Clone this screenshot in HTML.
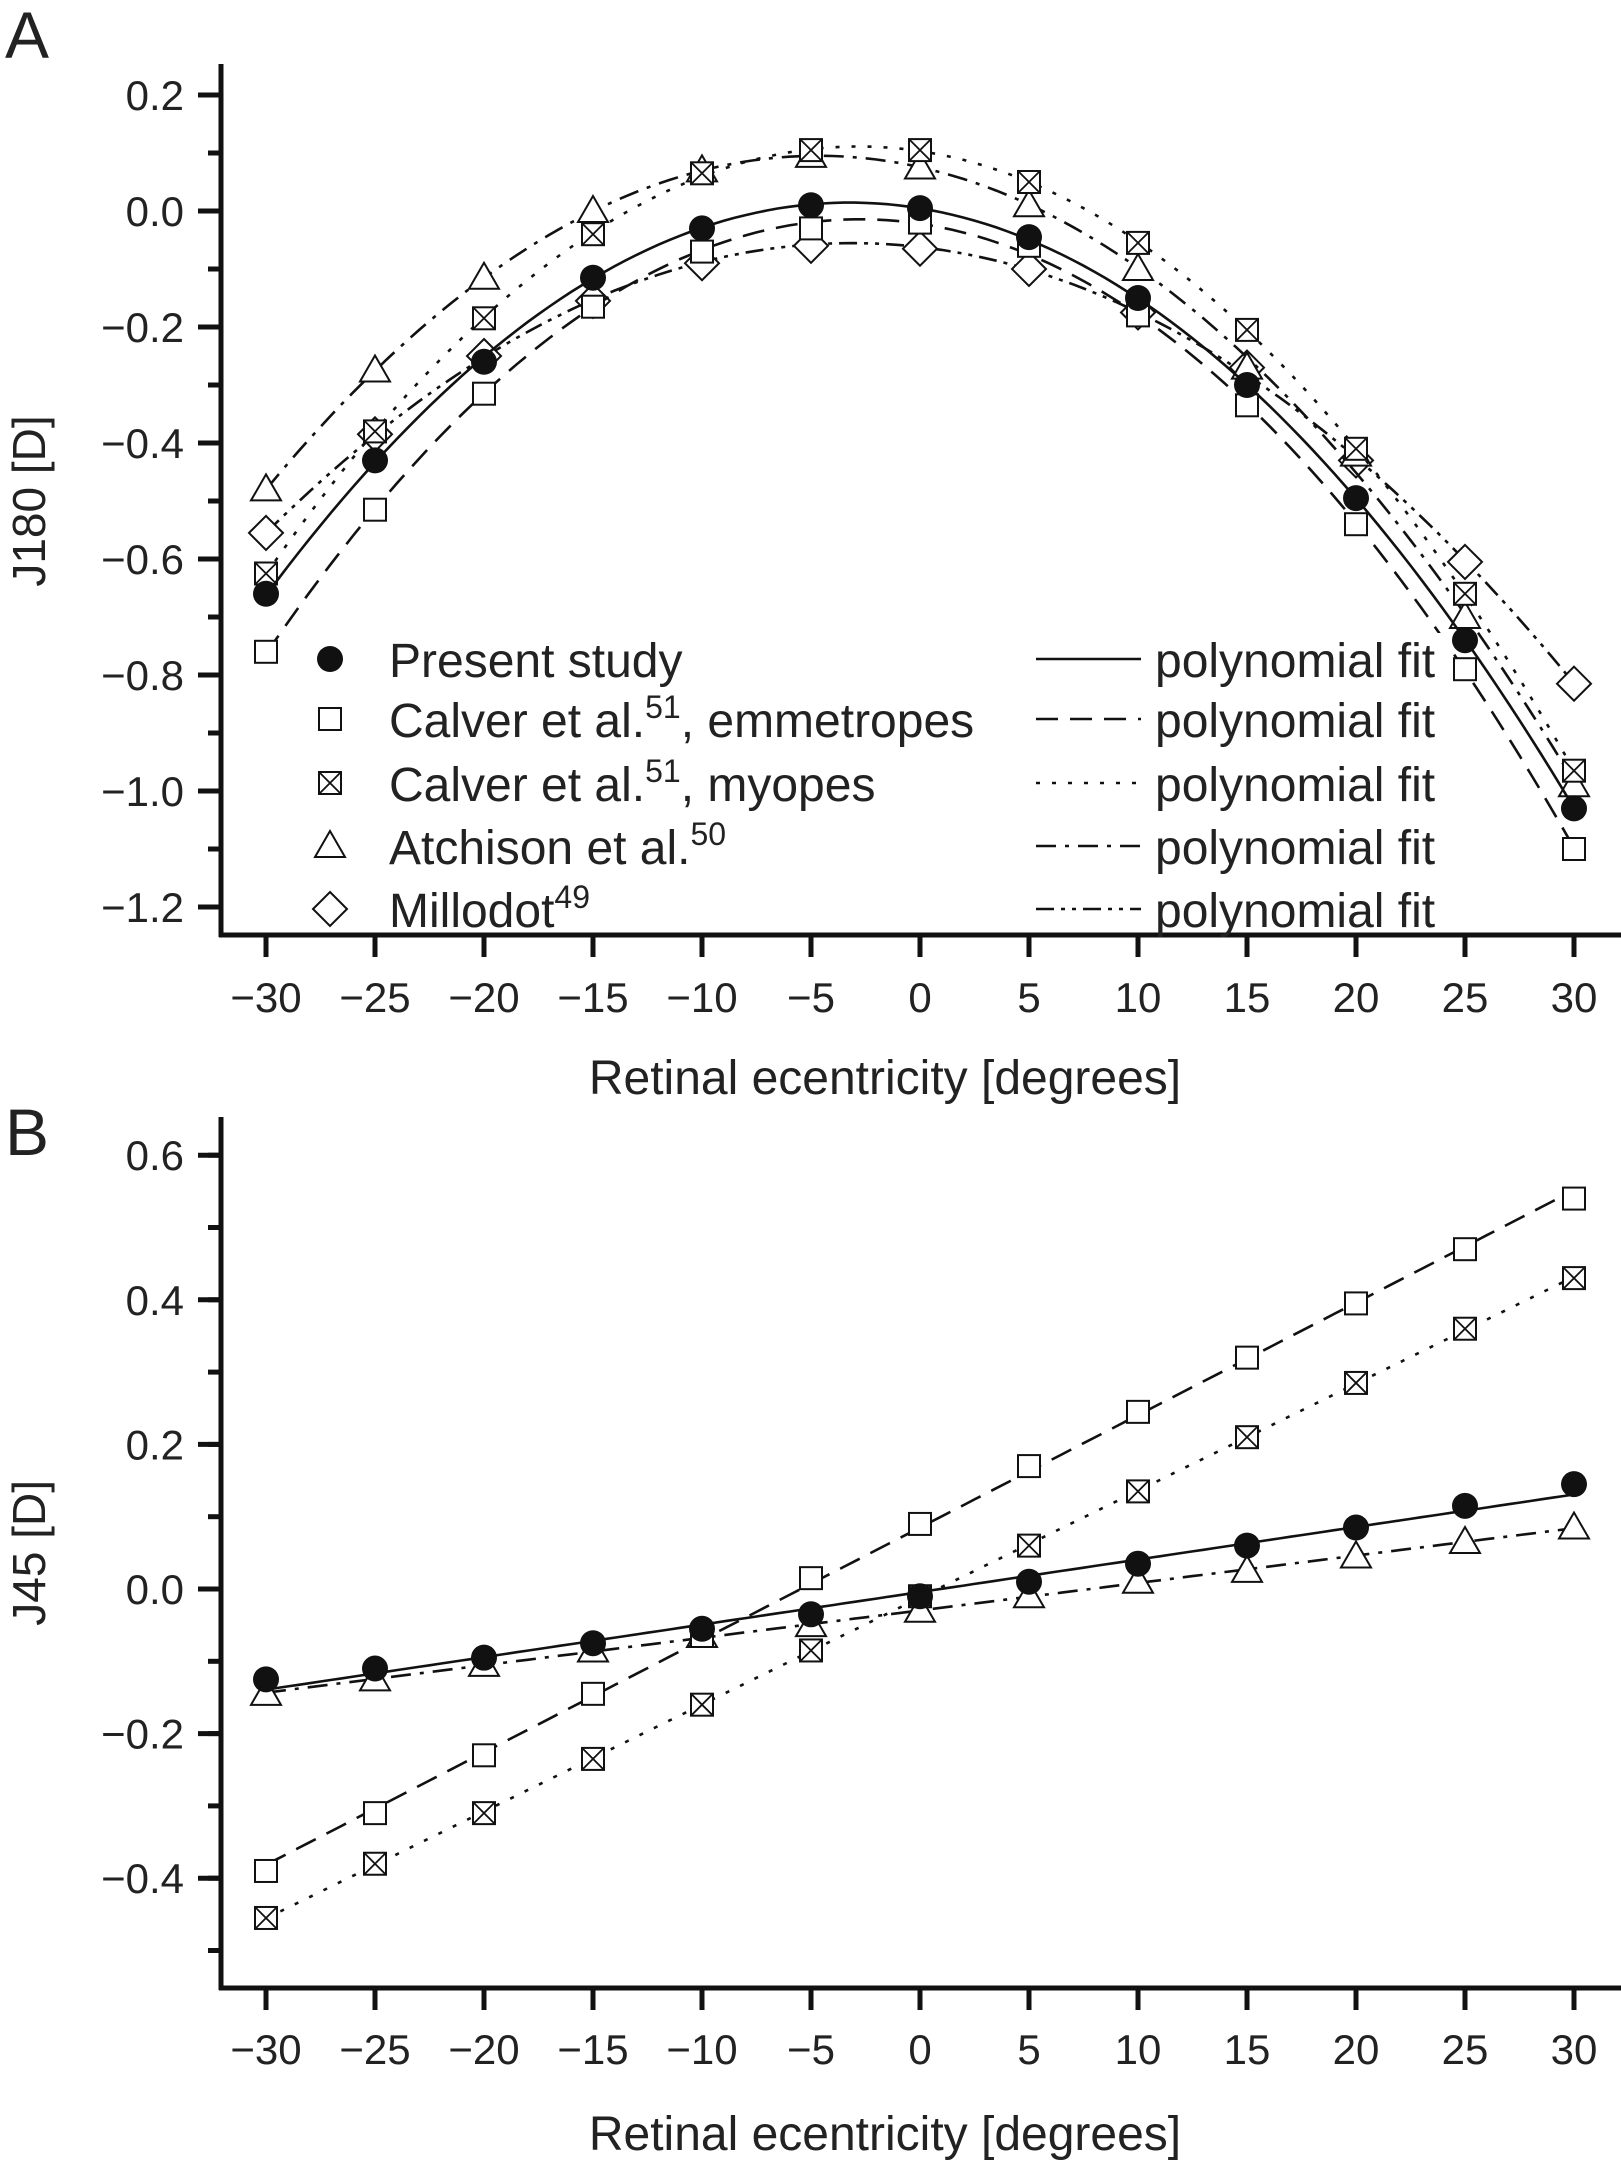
<!DOCTYPE html>
<html><head><meta charset="utf-8"><style>
html,body{margin:0;padding:0;background:#fff}
svg{display:block;font-family:"Liberation Sans",Arial,sans-serif}
</style></head><body>
<svg id="fig" width="1621" height="2161" viewBox="0 0 1621 2161" xmlns="http://www.w3.org/2000/svg"></svg>
<script>
const ecc = [-30,-25,-20,-15,-10,-5,0,5,10,15,20,25,30];
const xTicks = [-30,-25,-20,-15,-10,-5,0,5,10,15,20,25,30];
// Panel A (J180)
const aPresent = [-0.66,-0.43,-0.26,-0.115,-0.03,0.01,0.005,-0.045,-0.15,-0.30,-0.495,-0.74,-1.03];
const aEmm = [-0.76,-0.515,-0.315,-0.165,-0.07,-0.03,-0.02,-0.06,-0.18,-0.335,-0.54,-0.79,-1.10];
const aMyo = [-0.625,-0.38,-0.185,-0.04,0.065,0.105,0.105,0.05,-0.055,-0.205,-0.41,-0.66,-0.965];
const aAtch = [-0.48,-0.275,-0.115,0.0,0.07,0.095,0.075,0.01,-0.10,-0.27,-0.42,-0.70,-0.99];
const aMill = [-0.555,-0.385,-0.25,-0.155,-0.09,-0.06,-0.065,-0.10,-0.175,-0.27,-0.43,-0.605,-0.815];
const aTicks = [0.2,0.0,-0.2,-0.4,-0.6,-0.8,-1.0,-1.2];
// Panel B (J45)
const bPresent = [-0.125,-0.11,-0.095,-0.075,-0.055,-0.035,-0.01,0.01,0.035,0.06,0.085,0.115,0.145];
const bEmm = [-0.39,-0.31,-0.23,-0.145,-0.065,0.015,0.09,0.17,0.245,0.32,0.395,0.47,0.54];
const bMyo = [-0.455,-0.38,-0.31,-0.235,-0.16,-0.085,-0.01,0.06,0.135,0.21,0.285,0.36,0.43];
const bAtch = [-0.145,-0.125,-0.105,-0.085,-0.065,-0.05,-0.03,-0.01,0.01,0.025,0.045,0.065,0.085];
const bTicks = [0.6,0.4,0.2,0.0,-0.2,-0.4];

const NS="http://www.w3.org/2000/svg";
const svg=document.getElementById('fig');
function mk(tag,attrs,parent){const e=document.createElementNS(NS,tag);for(const k in attrs)e.setAttribute(k,attrs[k]);(parent||svg).appendChild(e);return e;}
const X=v=>266+(v+30)*109/5;
const YA=v=>211-v*580;
const YB=v=>1589-v*723;
const fmt=v=>(v<0?'\u2212':'')+Math.abs(v).toFixed(1);
const fmtx=v=>(v<0?'\u2212':'')+Math.abs(v);
const DASH={solid:'',dash:'22,12',dot:'4,12',dashdot:'20,9,4,9',dashdotdot:'18,7,4,7,4,7'};

function polyfit(xs,ys,deg){
  const n=deg+1;const A=[];for(let i=0;i<n;i++){A.push(new Array(n+1).fill(0));}
  for(let k=0;k<xs.length;k++){for(let i=0;i<n;i++){for(let j=0;j<n;j++)A[i][j]+=Math.pow(xs[k],i+j);A[i][n]+=ys[k]*Math.pow(xs[k],i);}}
  for(let i=0;i<n;i++){let p=i;for(let r=i+1;r<n;r++)if(Math.abs(A[r][i])>Math.abs(A[p][i]))p=r;[A[i],A[p]]=[A[p],A[i]];
    for(let r=0;r<n;r++){if(r===i)continue;const f=A[r][i]/A[i][i];for(let c=i;c<=n;c++)A[r][c]-=f*A[i][c];}}
  return A.map((row,i)=>row[n]/row[i]);
}
function marker(type,cx,cy,g){
  let e;
  if(type==='circle'){e=mk('circle',{cx,cy,r:13,fill:'#111'},g);}
  else if(type==='square'||type==='xsquare'){
    const s=11;e=mk('rect',{x:cx-s,y:cy-s,width:2*s,height:2*s,fill:'#fff',stroke:'#111','stroke-width':2},g);
    if(type==='xsquare'){mk('path',{d:`M${cx-s},${cy-s}L${cx+s},${cy+s}M${cx+s},${cy-s}L${cx-s},${cy+s}`,stroke:'#111','stroke-width':1.8,fill:'none'},g);}
  } else if(type==='tri'){e=mk('polygon',{points:`${cx},${cy-15} ${cx-15},${cy+11} ${cx+15},${cy+11}`,fill:'#fff',stroke:'#111','stroke-width':2},g);}
  else if(type==='diamond'){e=mk('polygon',{points:`${cx},${cy-17} ${cx+17},${cy} ${cx},${cy+17} ${cx-17},${cy}`,fill:'#fff',stroke:'#111','stroke-width':2},g);}
  return e;
}
function axes(prefix,Y,ticks,axTop,axBot,minorStep,yMin,yMax,ylabel,panelLabel,panelY,titleY,tickLabelY){
  const g=mk('g',{});
  
  
  mk('line',{x1:221,y1:axTop,x2:221,y2:axBot+2,stroke:'#111','stroke-width':5},g);
  mk('line',{x1:219,y1:axBot,x2:1621,y2:axBot,stroke:'#111','stroke-width':5},g);
  for(let v=yMin;v<=yMax+1e-9;v+=minorStep){mk('line',{x1:208,y1:Y(v),x2:221,y2:Y(v),stroke:'#111','stroke-width':5},g);}
  ticks.forEach(v=>{mk('line',{x1:198,y1:Y(v),x2:221,y2:Y(v),stroke:'#111','stroke-width':5},g);
    const t=mk('text',{x:184,y:Y(v)+15,'text-anchor':'end','font-size':42,fill:'#222'},g);t.textContent=fmt(v);
    
    });
  xTicks.forEach(v=>{mk('line',{x1:X(v),y1:axBot,x2:X(v),y2:axBot+22,stroke:'#111','stroke-width':5},g);
    const t=mk('text',{x:X(v),y:tickLabelY,'text-anchor':'middle','font-size':42,fill:'#222'},g);t.textContent=fmtx(v);
    
    });
  const xt=mk('text',{x:885,y:titleY,'text-anchor':'middle','font-size':48,fill:'#222'},g);xt.textContent='Retinal ecentricity [degrees]';
  
  
  const yt=mk('text',{x:0,y:0,transform:`translate(45,${Y((yMin+yMax)/2)}) rotate(-90)`,'text-anchor':'middle','font-size':46,fill:'#222'},g);yt.textContent=ylabel;
  
  
  const pl=mk('text',{x:5,y:panelY,'font-size':66,fill:'#222'},g);pl.textContent=panelLabel;
  
  
}
function series(prefix,name,vals,Y,type,dash,deg){
  const g=mk('g',{});
  
  
  const c=polyfit(ecc,vals,deg);
  let d='';for(let v=-30;v<=30.001;v+=0.5){let y=0;c.forEach((ci,i)=>y+=ci*Math.pow(v,i));d+=(d?'L':'M')+X(v).toFixed(1)+','+Y(y).toFixed(1);}
  const p=mk('path',{d,fill:'none',stroke:'#111','stroke-width':2.6,'stroke-dasharray':DASH[dash]},g);
  
  
  vals.forEach((v,i)=>{const m=marker(type,X(ecc[i]),Y(v),g);
    
    });
}
axes('a',YA,aTicks,64,935,0.1,-1.2,0.2,'J180 [D]','A',58,1094,1012);
axes('b',YB,bTicks,1117,1988,0.1,-0.5,0.6,'J45 [D]','B',1155,2150,2064);

series('a','millodot',aMill,YA,'diamond','dashdotdot',2);
series('a','atchison',aAtch,YA,'tri','dashdot',2);
series('a','calver-myopes',aMyo,YA,'xsquare','dot',2);
series('a','calver-emmetropes',aEmm,YA,'square','dash',2);
series('a','present-study',aPresent,YA,'circle','solid',2);

series('b','atchison',bAtch,YB,'tri','dashdot',1);
series('b','calver-myopes',bMyo,YB,'xsquare','dot',1);
series('b','calver-emmetropes',bEmm,YB,'square','dash',1);
series('b','present-study',bPresent,YB,'circle','solid',1);

// legend
const legTypes=['circle','square','xsquare','tri','diamond'];
const legDash=['solid','dash','dot','dashdot','dashdotdot'];
const legText=[['Present study',''],['Calver et al.','51',', emmetropes'],['Calver et al.','51',', myopes'],['Atchison et al.','50',''],['Millodot','49','']];
const legY=[659,719,783,846,909];
const lg=mk('g',{});


legTypes.forEach((t,i)=>{
  const e=mk('g',{},lg);
  
  
  mk('rect',{x:1030,y:legY[i]-26,width:420,height:44,fill:'#fff'},e);
  marker(t,330,legY[i],e);
  const tx=mk('text',{x:389,y:legY[i]+18,'font-size':48,fill:'#222'},e);
  tx.appendChild(document.createTextNode(legText[i][0]));
  if(legText[i][1]){const s=document.createElementNS(NS,'tspan');s.setAttribute('dy','-19');s.setAttribute('font-size','32');s.textContent=legText[i][1];tx.appendChild(s);
    if(legText[i][2]){const s2=document.createElementNS(NS,'tspan');s2.setAttribute('dy','19');s2.textContent=legText[i][2];tx.appendChild(s2);}}
  mk('line',{x1:1036,y1:legY[i],x2:1141,y2:legY[i],stroke:'#111','stroke-width':2.6,'stroke-dasharray':DASH[legDash[i]]},e);
  const ft=mk('text',{x:1155,y:legY[i]+18,'font-size':48,fill:'#222'},e);ft.textContent='polynomial fit';
});
</script>
</body></html>
